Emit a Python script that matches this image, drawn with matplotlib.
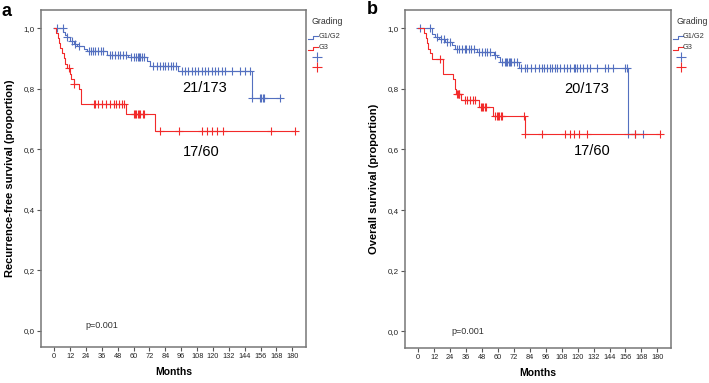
import numpy as np
import matplotlib
matplotlib.use("Agg")
import matplotlib.pyplot as plt
from matplotlib.lines import Line2D

plt.rcParams['font.family'] = ['Liberation Sans', 'DejaVu Sans']

# ---------------- data ----------------
# Panel a: recurrence-free survival
a_g12_times = [0, 7.0, 8.3, 9.6, 12.1, 14.6, 17.1, 22.2, 24.7, 39.8, 56.1, 70.0, 72.5, 93.5, 149.3]
a_g12_surv = [1.0, 0.988, 0.976, 0.970, 0.959, 0.948, 0.941, 0.932, 0.923, 0.912, 0.906, 0.890, 0.875, 0.857, 0.769]
a_g12_cens = [2, 6.5, 10, 13.5, 16, 19, 26, 28, 29.5, 31, 33, 35, 37, 42, 44, 46, 48, 50, 52, 54,
              58, 60, 62, 63, 64, 65, 66, 68, 75, 78, 80, 82, 84, 86, 88, 90, 92,
              96.4, 98.9, 101.4, 104, 106.5, 109, 111.5, 114, 116.5, 119, 121.6, 124.1, 126.6,
              129.1, 134.2, 140.5, 144.3, 148, 149.3, 155.5, 156.5, 157.5, 158.5, 170.7]

a_g3_times = [0, 1.5, 2.5, 3.5, 4.5, 6.0, 7.5, 8.5, 10.0, 12.0, 13.0, 15.0, 18.5, 20.5, 54.4, 76.5]
a_g3_surv = [1.0, 0.983, 0.967, 0.950, 0.933, 0.917, 0.900, 0.883, 0.867, 0.850, 0.833, 0.817, 0.800, 0.750, 0.717, 0.662]
a_g3_cens = [10.8, 15.1, 30, 31, 33, 36, 39, 42, 45, 47, 49, 51, 53,
             60, 61, 62, 63, 64, 65, 67, 68, 80, 94, 111.5, 115.8, 119, 122.9, 127.4, 163.5, 182]

# Panel b: overall survival
b_g12_times = [0, 10.3, 12.8, 15.4, 20.3, 25.4, 27.9, 44.2, 56.8, 59.3, 61.8, 75.5, 157.7]
b_g12_surv = [1.0, 0.981, 0.970, 0.965, 0.954, 0.943, 0.932, 0.923, 0.912, 0.904, 0.890, 0.870, 0.650]
b_g12_cens = [1.5, 9, 14, 17, 19, 22, 24, 29, 31, 33, 35, 36, 38, 40, 42, 46, 48, 50, 52, 54, 58,
              63, 65, 66, 67, 68, 69, 70, 72, 74, 77, 80, 82, 85, 88, 90.7, 93.1, 94.4, 96.9,
              99.4, 100.6, 103.1, 104.4, 106.9, 109.4, 111.9, 114.4, 116.9, 118.2, 119.4, 121.9,
              124.4, 126.9, 129.4, 134.4, 140.7, 143.2, 147, 155.7, 157, 157.7, 163.4, 169.2]

b_g3_times = [0, 4.5, 5.5, 6.5, 7.5, 8.5, 10.3, 18.3, 26.5, 27.5, 28.5, 32.5, 46.0, 56.0, 80.5]
b_g3_surv = [1.0, 0.983, 0.967, 0.950, 0.933, 0.917, 0.900, 0.850, 0.833, 0.800, 0.783, 0.764, 0.739, 0.710, 0.650]
b_g3_cens = [16, 29.5, 30, 30.5, 31, 35, 37, 39, 41, 43, 47, 48, 49, 50, 51,
             58, 59, 60, 61, 62, 63, 79.5, 80.5, 93.1, 110.7, 114.4, 117.5, 120.8, 127, 163.4, 182.2]

x_ticks = list(range(0, 181, 12))
y_ticks = [0.0, 0.2, 0.4, 0.6, 0.8, 1.0]
y_tick_labels = ["0,0", "0,2", "0,4", "0,6", "0,8", "1,0"]

BLUE = "#5470c0"
RED = "#f22a2a"
GREY = "#777777"

W, H = 709, 383
fig = plt.figure(figsize=(W / 100, H / 100), dpi=100)


def km(ax, times, surv, cens, color):
    t = np.asarray(times, float)
    s = np.asarray(surv, float)
    c = np.asarray(cens, float)
    end = max(t[-1], c.max())
    ax.step(np.append(t, end), np.append(s, s[-1]), where='post', color=color, lw=0.8)
    idx = np.searchsorted(t, c, side='right') - 1
    ax.plot(c, s[idx], ls='none', marker='+', ms=5.5, mew=0.8, color=color)


def style(ax, ylabel):
    ax.set_xlim(-10, 190.3)
    ax.set_ylim(-0.053, 1.06)
    ax.set_xticks(x_ticks)
    ax.set_xticklabels([str(v) for v in x_ticks], fontsize=5.3, color="#222222")
    ax.set_yticks(y_ticks)
    ax.set_yticklabels(y_tick_labels, fontsize=5.8, color="#222222")
    ax.tick_params(direction='out', length=3, width=0.8, color="#555555", pad=1.5)
    for sp in ax.spines.values():
        sp.set_color(GREY)
        sp.set_linewidth(1.1)
    ax.set_xlabel("Months", fontsize=7.5, fontweight='bold', labelpad=5)
    ax.set_ylabel(ylabel, fontsize=8, fontweight='bold', labelpad=6)


ax_a = fig.add_axes([41 / W, 36 / H, 265 / W, 337 / H])
km(ax_a, a_g12_times, a_g12_surv, a_g12_cens, BLUE)
km(ax_a, a_g3_times, a_g3_surv, a_g3_cens, RED)
style(ax_a, "Recurrence-free survival (proportion)")
ax_a.text(113.7, 0.801, "21/173", fontsize=10.5, ha='center', va='center')
ax_a.text(111, 0.592, "17/60", fontsize=10.5, ha='center', va='center')
ax_a.text(23.4, 0.0175, "p=0.001", fontsize=6.5, ha='left', va='center', color="#333333")

ax_b = fig.add_axes([405 / W, 35.5 / H, 266 / W, 337.5 / H])
km(ax_b, b_g12_times, b_g12_surv, b_g12_cens, BLUE)
km(ax_b, b_g3_times, b_g3_surv, b_g3_cens, RED)
style(ax_b, "Overall survival (proportion)")
ax_b.text(126.5, 0.801, "20/173", fontsize=10.5, ha='center', va='center')
ax_b.text(131, 0.594, "17/60", fontsize=10.5, ha='center', va='center')
ax_b.text(25.2, 0.0, "p=0.001", fontsize=6.5, ha='left', va='center', color="#333333")

# panel letters
fig.text(2 / W, 1 - 12 / H, "a", fontsize=13, fontweight='bold', va='center', ha='left')
fig.text(367 / W, 1 - 10 / H, "b", fontsize=13, fontweight='bold', va='center', ha='left')

# legends (overlay in pixel coords)
ov = fig.add_axes([0, 0, 1, 1], facecolor='none')
ov.set_xlim(0, W)
ov.set_ylim(H, 0)
ov.axis('off')
for x0 in (308.3, 672.6):
    ov.text(x0 + 3.5, 21.7, "Grading", fontsize=6.3, va='center', ha='left', color="#333333")
    ov.plot([x0, x0 + 5, x0 + 5, x0 + 10], [39.3, 39.3, 35.5, 35.5], color=BLUE, lw=0.8)
    ov.text(x0 + 10.5, 36.7, "G1/G2", fontsize=5.3, va='center', ha='left', color="#333333")
    ov.plot([x0, x0 + 5, x0 + 5, x0 + 10], [50, 50, 46.5, 46.5], color=RED, lw=0.8)
    ov.text(x0 + 10.5, 47.3, "G3", fontsize=5.3, va='center', ha='left', color="#333333")
    ov.plot([x0 + 8.3], [56.7], marker='+', ms=7, mew=0.8, color=BLUE, ls='none')
    ov.plot([x0 + 8.3], [67.3], marker='+', ms=7, mew=0.8, color=RED, ls='none')

fig.savefig("out.png", dpi=100)
